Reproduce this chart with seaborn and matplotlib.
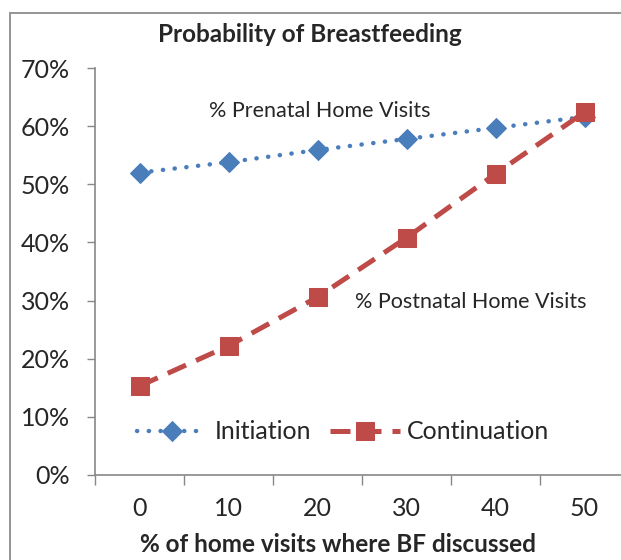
import matplotlib
matplotlib.use("Agg")
import matplotlib.pyplot as plt
import seaborn as sns
import pandas as pd
from matplotlib.ticker import PercentFormatter, FixedLocator
from matplotlib.patches import Rectangle

# ---- data ----
x_vals = [0, 10, 20, 30, 40, 50]
initiation = [0.52, 0.538, 0.559, 0.578, 0.597, 0.616]
continuation = [0.153, 0.222, 0.306, 0.408, 0.518, 0.624]
series_names = ["Initiation", "Continuation"]
title = "Probability of Breastfeeding"
xlabel = "% of home visits where BF discussed"
label_pre = "% Prenatal Home Visits"
label_post = "% Postnatal Home Visits"

sns.set_style("white")
plt.rcParams["font.family"] = ["Lato", "DejaVu Sans"]

blue = "#4A7EBB"
red = "#BE4B48"

df = pd.DataFrame({
    "x": x_vals * 2,
    "y": initiation + continuation,
    "series": [series_names[0]] * len(x_vals) + [series_names[1]] * len(x_vals),
})

fig = plt.figure(figsize=(6.21, 5.60), dpi=100)
ax = fig.add_axes([95 / 621, 85 / 560, 534 / 621, 407 / 560])

sns.lineplot(data=df[df.series == series_names[0]], x="x", y="y", ax=ax,
             color=blue, linewidth=3.2, linestyle=(0, (0.05, 2.6)),
             dash_capstyle="round", marker="D", markersize=10.5,
             markeredgecolor=blue, label=series_names[0], legend=False)
sns.lineplot(data=df[df.series == series_names[1]], x="x", y="y", ax=ax,
             color=red, linewidth=3.6, linestyle=(0, (4.0, 2.2)),
             marker="s", markersize=13.5, markeredgecolor=red,
             label=series_names[1], legend=False)
for l in ax.lines:
    l.set_clip_on(False)

ax.set_xlim(-5, 55)
ax.set_ylim(0, 0.7)
ax.set_xticks(x_vals)
ax.set_xticklabels([str(v) for v in x_vals])
ax.xaxis.set_minor_locator(FixedLocator([-5, 5, 15, 25, 35, 45, 55]))
ax.tick_params(axis="x", which="major", length=0, pad=16, labelsize=18)
ax.tick_params(axis="x", which="minor", length=7, width=1, color="#888888", direction="out", bottom=True)
ax.set_yticks([i / 10 for i in range(8)])
ax.yaxis.set_major_formatter(PercentFormatter(1.0, decimals=0))
ax.tick_params(axis="y", length=6, width=1, color="#888888", direction="out", left=True, labelsize=18, pad=12)

for s in ["top", "right"]:
    ax.spines[s].set_visible(False)
for s in ["left", "bottom"]:
    ax.spines[s].set_color("#888888")
    ax.spines[s].set_linewidth(1.2)

ax.set_xlabel(xlabel, fontsize=17.5, fontweight="bold", va="center")
ax.xaxis.set_label_coords((338 - 95) / 534, -(545 - 475) / 407)
ax.set_ylabel("")

fig.text(310 / 621, 1 - 35 / 560, title, ha="center", va="center", fontsize=17.5, fontweight="bold")

ax.text(20.3, 0.626, label_pre, ha="center", va="center", fontsize=15.5)
ax.text(24.2, 0.298, label_post, ha="left", va="center", fontsize=15.5)

leg = ax.legend(loc="center left", bbox_to_anchor=(0.06, 0.106), ncol=2, frameon=False,
                fontsize=18, handlelength=2.8, handletextpad=0.3, columnspacing=0.75,
                borderaxespad=0)

fig.patches.append(Rectangle((10 / 621, -0.1), 1.2, 1 - 13 / 560 + 0.1,
                             transform=fig.transFigure, fill=False,
                             edgecolor="#8c8c8c", linewidth=1.3, zorder=-1))

fig.savefig("out.png", dpi=100)
